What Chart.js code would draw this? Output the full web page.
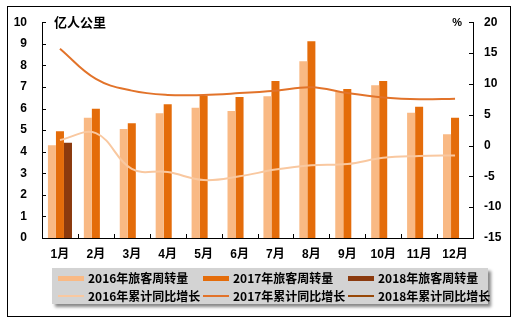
<!DOCTYPE html>
<html><head><meta charset="utf-8">
<script src="https://cdn.jsdelivr.net/npm/chart.js@4.4.1/dist/chart.umd.min.js"></script>
<style>
html,body{margin:0;padding:0;background:#fff;}
#wrap{position:relative;width:520px;height:331px;overflow:hidden;}
#frame{position:absolute;left:7px;top:6px;width:504px;height:311px;border:1px solid #000;box-sizing:border-box;}
#c{position:absolute;left:0;top:0;}
#legend{position:absolute;left:52px;top:268px;width:436px;height:36px;background:#d3d3d3;box-shadow:3px 3px 3px #888;font:bold 12px "Noto Sans CJK SC","Liberation Sans",sans-serif;color:#000;}
.li{position:absolute;height:18px;line-height:18px;white-space:nowrap;}
.sw{position:absolute;left:0;width:26px;}
.tx{position:absolute;left:30px;top:0;}
</style></head>
<body>
<div id="wrap">
<div id="frame"></div>
<canvas id="c" width="520" height="331"></canvas>
<div id="legend"></div>
</div>
<script>
const categories = ['1月','2月','3月','4月','5月','6月','7月','8月','9月','10月','11月','12月'];
const bars2016 = [4.3,5.57,5.05,5.78,6.03,5.88,6.57,8.19,6.77,7.08,5.8,4.81];
const bars2017 = [4.95,5.99,5.32,6.2,6.59,6.53,7.28,9.12,6.9,7.28,6.08,5.57];
const bars2018 = [4.41,null,null,null,null,null,null,null,null,null,null,null];
const growth2016 = [0.9,2.0,-3.8,-4.3,-5.6,-5.0,-3.9,-3.2,-3.0,-2.0,-1.7,-1.6];
const growth2017 = [15.7,10.8,8.9,8.2,8.2,8.5,8.9,9.45,8.5,7.8,7.5,7.6];
const growth2018 = [null,null,null,null,null,null,null,null,null,null,null,null];
const leftTicks = [0,1,2,3,4,5,6,7,8,9,10];
const rightTicks = [-15,-10,-5,0,5,10,15,20];

const C16='#F9B984', C17='#E46C0A', C18='#8B3A0E';
const L16='#F9C8A0', L17='#E2732A', L18='#984807';
const FONT = {family:'"Liberation Sans","Noto Sans CJK SC",sans-serif', size:12, weight:'bold'};

const inwardTicks = {
  id:'inwardTicks',
  afterDraw(chart){
    const ctx=chart.ctx, a=chart.chartArea;
    ctx.save(); ctx.strokeStyle='#000'; ctx.lineWidth=1;
    const yl=chart.scales.y, yr=chart.scales.y2, x=chart.scales.x;
    ctx.beginPath();
    yl.ticks.forEach((t,i)=>{const p=Math.round(yl.getPixelForTick(i))+0.5; ctx.moveTo(a.left,p); ctx.lineTo(a.left+4,p);});
    yr.ticks.forEach((t,i)=>{const p=Math.round(yr.getPixelForTick(i))+0.5; ctx.moveTo(a.right-4,p); ctx.lineTo(a.right,p);});
    for(let i=0;i<=categories.length;i++){const p=Math.round(x.getPixelForValue(i-0.5))+0.5; ctx.moveTo(p,a.bottom); ctx.lineTo(p,a.bottom-4);}
    ctx.stroke();
    ctx.fillStyle='#000';
    ctx.font='bold 13px "Noto Sans CJK SC",sans-serif';
    ctx.textBaseline='middle'; ctx.textAlign='left';
    ctx.fillText('亿人公里', a.left+12, a.top);
    ctx.font='bold 11px "Liberation Sans",sans-serif';
    ctx.textAlign='right';
    ctx.fillText('%', a.right-11, a.top+1);
    ctx.restore();
  }
};

const datasets = [
  {type:'line',label:'2016年累计同比增长',data:growth2016,yAxisID:'y2',borderColor:L16,borderWidth:2,pointRadius:0,tension:0.4,order:0,fill:false},
  {type:'line',label:'2017年累计同比增长',data:growth2017,yAxisID:'y2',borderColor:L17,borderWidth:2,pointRadius:0,tension:0.4,order:0,fill:false},
  {type:'line',label:'2018年累计同比增长',data:growth2018,yAxisID:'y2',borderColor:L18,borderWidth:2,pointRadius:0,tension:0.4,order:0,fill:false},
  {type:'bar',label:'2016年旅客周转量',data:bars2016,yAxisID:'y',backgroundColor:C16,order:1,categoryPercentage:0.67,barPercentage:1},
  {type:'bar',label:'2017年旅客周转量',data:bars2017,yAxisID:'y',backgroundColor:C17,order:1,categoryPercentage:0.67,barPercentage:1},
  {type:'bar',label:'2018年旅客周转量',data:bars2018,yAxisID:'y',backgroundColor:C18,order:1,categoryPercentage:0.67,barPercentage:1}
];

new Chart(document.getElementById('c'),{
  data:{labels:categories,datasets},
  options:{
    responsive:false,animation:false,
    layout:{padding:{left:0,right:0,top:22,bottom:69}},
    plugins:{legend:{display:false},tooltip:{enabled:false}},
    scales:{
      x:{position:'bottom',grid:{display:false,drawTicks:false},border:{display:true,color:'#000',width:1},
         ticks:{font:FONT,color:'#000',padding:9,maxRotation:0,autoSkip:false},
         afterFit(s){s.height=24;}},
      y:{position:'left',min:0,max:10,grid:{display:false,drawTicks:false},border:{display:true,color:'#000',width:1},
         afterBuildTicks(s){s.ticks=leftTicks.map(v=>({value:v}));},
         ticks:{font:FONT,color:'#000',padding:15},
         afterFit(s){s.width=42;}},
      y2:{position:'right',min:-15,max:20,grid:{display:false,drawTicks:false},border:{display:true,color:'#000',width:1},
         afterBuildTicks(s){s.ticks=rightTicks.map(v=>({value:v}));},
         ticks:{font:FONT,color:'#000',padding:11},
         afterFit(s){s.width=47;}}
    }
  },
  plugins:[inwardTicks]
});

// HTML legend built from the datasets
const legendOrder = [3,4,5,0,1,2];
const xs=[6,151,296], ys=[1,19];
const lg=document.getElementById('legend');
legendOrder.forEach((di,k)=>{
  const d=datasets[di];
  const el=document.createElement('div'); el.className='li';
  el.style.left=xs[k%3]+'px'; el.style.top=ys[Math.floor(k/3)]+'px';
  const isBar=d.type==='bar';
  const sw=document.createElement('div'); sw.className='sw';
  sw.style.height=(isBar?5:2)+'px'; sw.style.top=(isBar?7:8)+'px';
  sw.style.background=isBar?d.backgroundColor:d.borderColor;
  const tx=document.createElement('span'); tx.className='tx'; tx.textContent=d.label;
  el.appendChild(sw); el.appendChild(tx); lg.appendChild(el);
});
</script>
</body></html>
